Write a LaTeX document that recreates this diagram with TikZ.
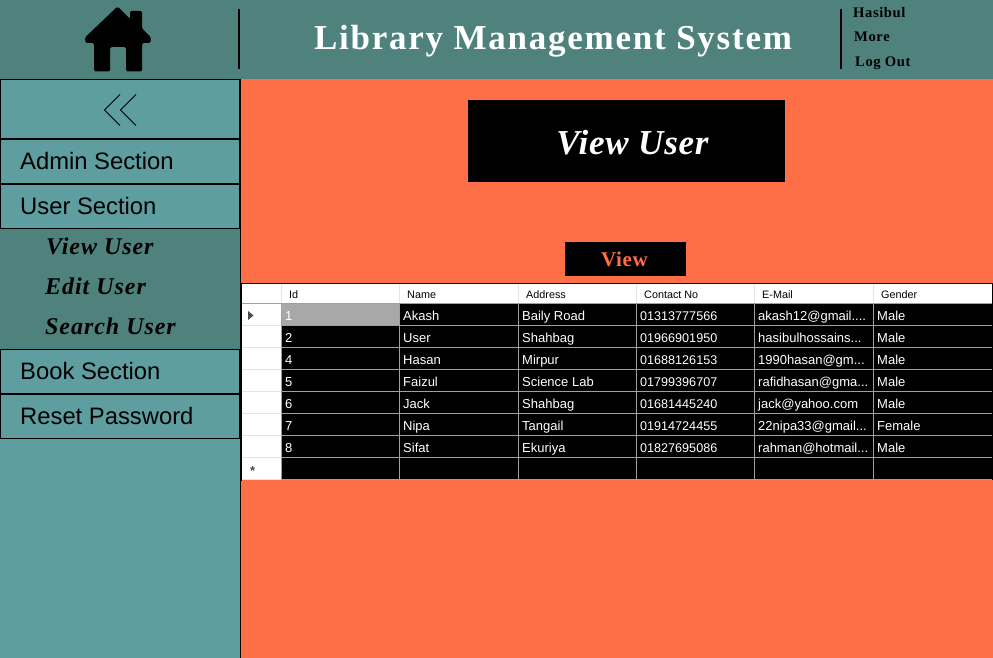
\documentclass[tikz,border=0pt]{standalone}
\usepackage{fontspec}
\setmainfont{Liberation Serif}
\setsansfont{Liberation Sans}
\definecolor{hdr}{HTML}{4F827C}
\definecolor{side}{HTML}{5F9EA0}
\definecolor{org}{HTML}{FF6F47}
\definecolor{gridc}{HTML}{A0A0A0}
\definecolor{hgrid}{HTML}{E4E4E4}
\tikzset{
 x=1pt,y=-1pt,
 menubox/.style={draw=black,line width=1.3pt,fill=side},
 menutxt/.style={anchor=base west,inner sep=0,font=\sffamily\fontsize{23.8}{24}\selectfont,text=black},
 subtxt/.style={anchor=base west,inner sep=0,font=\rmfamily\bfseries\itshape\fontsize{24}{24}\selectfont\addfontfeature{LetterSpace=4},text=black},
 toptxt/.style={anchor=base west,inner sep=0,font=\rmfamily\bfseries\fontsize{14.6}{15}\selectfont\addfontfeature{LetterSpace=4},text=black},
 colhd/.style={anchor=base west,inner sep=0,font=\sffamily\fontsize{10.8}{12}\selectfont,text=black},
 cell/.style={anchor=base west,inner sep=0,font=\sffamily\fontsize{13}{14}\selectfont,text=white},
 numcell/.style={cell,font=\sffamily\fontsize{12.6}{14}\selectfont},
}
\newcommand{\tblrow}[7]{%
  \node[cell] at (285,#1) {#2};
  \node[cell] at (403,#1) {#3};
  \node[cell] at (522,#1) {#4};
  \node[numcell] at (640,#1) {#5};
  \node[cell] at (758,#1) {#6};
  \node[cell] at (877,#1) {#7};
}
\begin{document}
\begin{tikzpicture}
\useasboundingbox (0,0) rectangle (993,658);
\fill[org] (0,0) rectangle (993,658);
\fill[hdr] (0,0) rectangle (993,79);
\fill[side] (0,79) rectangle (240,658);
\fill[hdr] (0,229) rectangle (240,349);
\draw[black,line width=1pt] (240.5,79) -- (240.5,658);
% header
\fill[black,rounded corners=1.5pt] (117.5,6.5) -- (130,19) -- (130,11) -- (142,11) -- (142,28.5) -- (151,37.5) -- (150.5,43) -- (142,43) -- (142,71.5) -- (126,71.5) -- (126,47) -- (110,47) -- (110,71.5) -- (94,71.5) -- (94,43) -- (85.5,43) -- (85,37.5) -- cycle;
\draw[black,line width=2pt] (239,9) -- (239,69);
\draw[black,line width=2pt] (841,9) -- (841,69);
\node[inner sep=0,anchor=base,text=white,font=\rmfamily\bfseries\fontsize{35}{35}\selectfont\addfontfeature{LetterSpace=5}] (title) at (553,49.5) {Library Management System};
\node[toptxt] (t1) at (853,17.5) {Hasibul};
\node[toptxt] (t2) at (854,41.5) {More};
\node[toptxt] (t3) at (855,66.5) {Log Out};
% menu
\draw[menubox] (0.5,79.5) rectangle (239.5,138.5);
\draw[black,line width=0.9pt] (120,94.5) -- (104.5,110) -- (120,125.5);
\draw[black,line width=0.9pt] (136,94.5) -- (120.5,110) -- (136,125.5);
\draw[menubox] (0.5,139) rectangle (239.5,184);
\node[menutxt] (m1) at (20,169) {Admin Section};
\draw[menubox] (0.5,184) rectangle (239.5,228.5);
\node[menutxt] (m2) at (20,214) {User Section};
\node[subtxt] (s1) at (46,254.7) {View User};
\node[subtxt] (s2) at (45,294.7) {Edit User};
\node[subtxt] (s3) at (45,334.7) {Search User};
\draw[menubox] (0.5,349.5) rectangle (239.5,394);
\node[menutxt] (m3) at (20,379) {Book Section};
\draw[menubox] (0.5,394) rectangle (239.5,438.5);
\node[menutxt] (m4) at (20,424) {Reset Password};
% main titles
\fill[black] (468,100) rectangle (785,182);
\node[inner sep=0,text=white,font=\rmfamily\bfseries\itshape\fontsize{35}{35}\selectfont\addfontfeature{LetterSpace=2.2}] (vu) at (632.5,142.6) {View User};
\fill[black] (565,242) rectangle (686,276);
\node[inner sep=0,text=org,font=\rmfamily\bfseries\fontsize{21}{21}\selectfont\addfontfeature{LetterSpace=3}] (vb) at (624.5,259) {View};
% table
\fill[white] (241,283) rectangle (993,480);
\fill[black] (282,304) rectangle (993,480);
\fill[black!34] (282,304) rectangle (399,325);
\draw[black,line width=1pt] (241,283.5) -- (993,283.5);
\draw[black,line width=1pt] (241.5,283) -- (241.5,480.5);
\foreach \yy in {325,347,369,391,413,435,457,479}{
  \draw[gridc,line width=1pt] (282,\yy.5) -- (992,\yy.5);
  \draw[hgrid,line width=1pt] (242,\yy.5) -- (281,\yy.5);
}
\draw[gridc,line width=1pt] (242,303.5) -- (992,303.5);
\foreach \xx in {281,399,518,636,754,873}{
  \draw[gridc,line width=1pt] (\xx.5,304) -- (\xx.5,480);
  \draw[hgrid,line width=1pt] (\xx.5,284) -- (\xx.5,303);
}
\fill[black] (992,283) rectangle (993,480);
\fill[black!70] (248,311) -- (253.5,315.5) -- (248,320) -- cycle;
\node[inner sep=0,font=\sffamily\bfseries\fontsize{13}{13}\selectfont,text=black!70] (star) at (252.7,471.5) {*};
\node[colhd] (h1) at (289,298) {Id};
\node[colhd] (h2) at (407,298) {Name};
\node[colhd] (h3) at (526,298) {Address};
\node[colhd] (h4) at (644,298) {Contact No};
\node[colhd] (h5) at (762,298) {E-Mail};
\node[colhd] (h6) at (881,298) {Gender};
\tblrow{320}{1}{Akash}{Baily Road}{01313777566}{akash12@gmail....}{Male}
\tblrow{342}{2}{User}{Shahbag}{01966901950}{hasibulhossains...}{Male}
\tblrow{364}{4}{Hasan}{Mirpur}{01688126153}{1990hasan@gm...}{Male}
\tblrow{386}{5}{Faizul}{Science Lab}{01799396707}{rafidhasan@gma...}{Male}
\tblrow{408}{6}{Jack}{Shahbag}{01681445240}{jack@yahoo.com}{Male}
\tblrow{430}{7}{Nipa}{Tangail}{01914724455}{22nipa33@gmail...}{Female}
\tblrow{452}{8}{Sifat}{Ekuriya}{01827695086}{rahman@hotmail...}{Male}
\end{tikzpicture}
\end{document}
